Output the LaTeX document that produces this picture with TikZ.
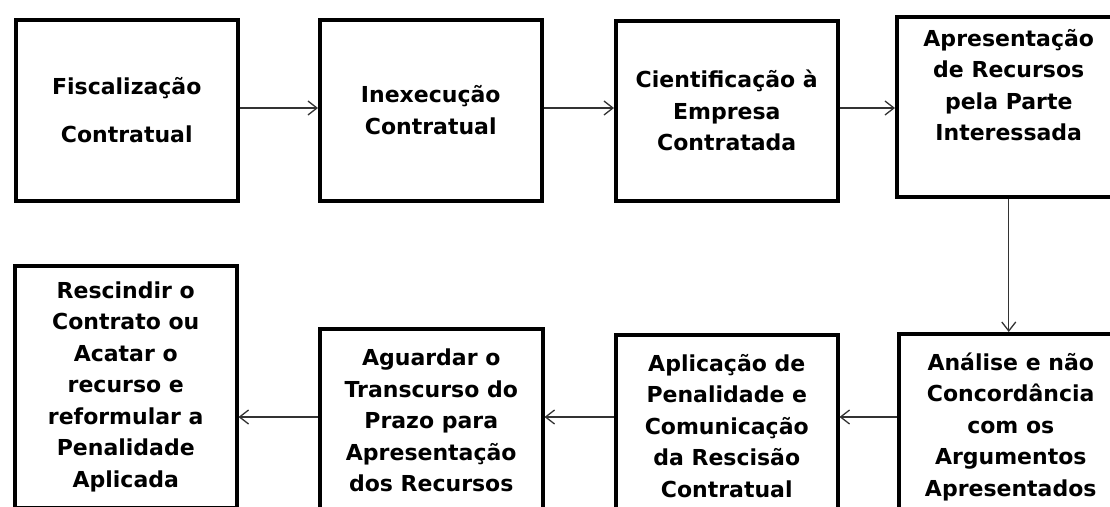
\documentclass[tikz,border=0pt]{standalone}
\usepackage{fontspec}
\setmainfont{DejaVu Sans}
\usepackage{tikz}
\usetikzlibrary{arrows.meta, positioning, calc}

\begin{document}
\begin{tikzpicture}[
            x=1pt, y=-1pt,
            stage/.style={rectangle, draw=black, line width=3.5pt, anchor=north west, minimum width=222pt, align=center, inner sep=0pt,
                font=\fontsize{22pt}{31.5pt}\selectfont\bfseries},
            flow/.style={-{Straight Barb[length=9pt,width=14pt]}, line width=1.3pt, draw=black!80}
        ]
            \useasboundingbox (0,0) rectangle (1110,506);
            \clip (0,0) rectangle (1110,506);

% Top row
            \node[stage, minimum height=181pt] (fisc) at (14,18) {Fiscalização\\[16pt]Contratual};
            \node[stage, minimum height=181pt] (inex) at (318,18) {Inexecução\\Contratual};
            \node[stage, minimum height=180pt] (cien) at (614,19) {Cientificação à\\Empresa\\Contratada};
            \node[stage, minimum height=180pt, minimum width=224pt, text depth=44pt] (recu) at (895,15) {Apresentação\\de Recursos\\pela Parte\\Interessada};

% Bottom row
            \node[stage, minimum height=242pt] (resc) at (13,264) {Rescindir o\\Contrato ou\\Acatar o\\recurso e\\reformular a\\Penalidade\\Aplicada};
            \node[stage, minimum height=184pt, minimum width=223pt] (agua) at (318,327) {Aguardar o\\Transcurso do\\Prazo para\\Apresentação\\dos Recursos};
            \node[stage, minimum height=182pt] (apli) at (614,333) {Aplicação de\\Penalidade e\\Comunicação\\da Rescisão\\Contratual};
            \node[stage, minimum height=186pt, minimum width=224pt] (anal) at (897,332) {Análise e não\\Concordância\\com os\\Argumentos\\Apresentados};

            \coordinate (row1) at (0,108);
            \coordinate (row2) at (0,417);

% Connectors
            \draw[flow] (fisc.east |- row1) -- (inex.west |- row1);
            \draw[flow] (inex.east |- row1) -- (cien.west |- row1);
            \draw[flow] (cien.east |- row1) -- (recu.west |- row1);
            \draw[flow] (recu.south) -- (recu.south |- anal.north);
            \draw[flow] (anal.west |- row2) -- (apli.east |- row2);
            \draw[flow] (apli.west |- row2) -- (agua.east |- row2);
            \draw[flow] (agua.west |- row2) -- (resc.east |- row2);

        \end{tikzpicture}
\end{document}
